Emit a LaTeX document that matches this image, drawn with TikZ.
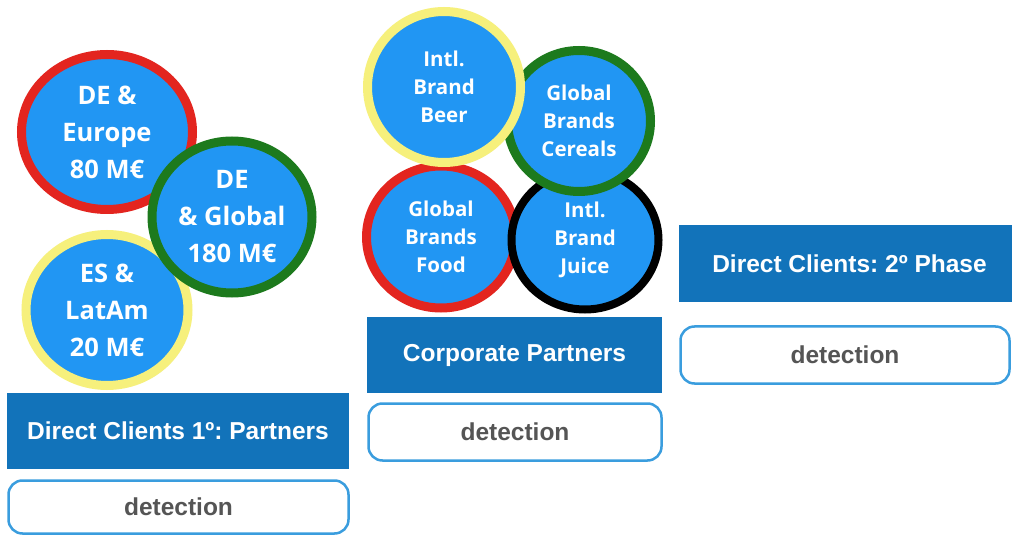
\documentclass[tikz,border=0pt]{standalone}
\usepackage{fontspec}
\setmainfont{Liberation Sans}
\newfontfamily\circfont{Open Sans}
\usetikzlibrary{shapes.geometric,shadows}
\frenchspacing
\definecolor{cfill}{HTML}{2196F3}
\definecolor{cred}{HTML}{E3251F}
\definecolor{cgreen}{HTML}{1D7A1D}
\definecolor{cyellow}{HTML}{F6F07C}
\definecolor{hdrblue}{HTML}{1273BA}
\definecolor{detblue}{HTML}{3A9DDE}
\definecolor{dettext}{HTML}{555555}
\tikzset{
  bub/.style={ellipse, fill=cfill, line width=9pt, inner sep=0pt, align=center, text=white,
    drop shadow={shadow xshift=3pt, shadow yshift=-3pt, opacity=0.22}},
  bigtxt/.style={font=\circfont\bfseries\fontsize{25.5}{37}\selectfont},
  smalltxt/.style={font=\circfont\bfseries\fontsize{20.5}{28}\selectfont},
  hdr/.style={rectangle, fill=hdrblue, inner sep=0pt, text=white,
    font=\frenchspacing\bfseries\fontsize{24.5}{28}\selectfont},
  det/.style={rectangle, rounded corners=14pt, draw=detblue, line width=2.5pt, fill=white,
    inner sep=0pt, text=dettext, font=\bfseries\fontsize{24.5}{28}\selectfont},
}
\begin{document}
\begin{tikzpicture}[x=1pt, y=-1pt]
\clip (0,0) rectangle (1012,537);
\fill[white] (0,0) rectangle (1012,537);
% left group
\node[bub, bigtxt, draw=cred, minimum width=171pt, minimum height=155pt] (eur) at (107,132) {DE \&\\Europe\\80 M€};
\node[bub, bigtxt, draw=cyellow, minimum width=162pt, minimum height=151pt] (lat) at (107,310) {ES \&\\LatAm\\20 M€};
\node[bub, bigtxt, draw=cgreen, minimum width=160pt, minimum height=152pt] (glo) at (232,217) {DE\\\& Global\\180 M€};
% middle group
\node[bub, smalltxt, draw=cred, minimum width=149pt, minimum height=142pt] (food) at (441,237) {Global\\Brands\\Food};
\node[bub, smalltxt, draw=black, line width=8pt, minimum width=147pt, minimum height=139pt] (juice) at (585,240) {Intl.\\Brand\\Juice};
\node[bub, smalltxt, draw=cgreen, minimum width=143pt, minimum height=141pt] (cer) at (579,121) {Global\\Brands\\Cereals};
\node[bub, smalltxt, draw=cyellow, minimum width=153pt, minimum height=151pt] (beer) at (444,87) {Intl.\\Brand\\Beer};
% boxes
\node[hdr, minimum width=342pt, minimum height=76pt] (h1) at (178,431) {Direct Clients 1º: Partners};
\node[det, minimum width=340pt, minimum height=53pt] (d1) at (178.5,507) {detection};
\node[hdr, minimum width=295pt, minimum height=76pt] (h2) at (514.5,355) {Corporate Partners};
\node[det, minimum width=293pt, minimum height=57pt] (d2) at (515,432) {detection};
\node[hdr, minimum width=341pt, minimum height=77pt] (h3) at (849.5,263.5) {Direct Clients: 2º Phase};
\node[det, minimum width=329pt, minimum height=57pt] (d3) at (845,355) {detection};
\end{tikzpicture}
\end{document}
